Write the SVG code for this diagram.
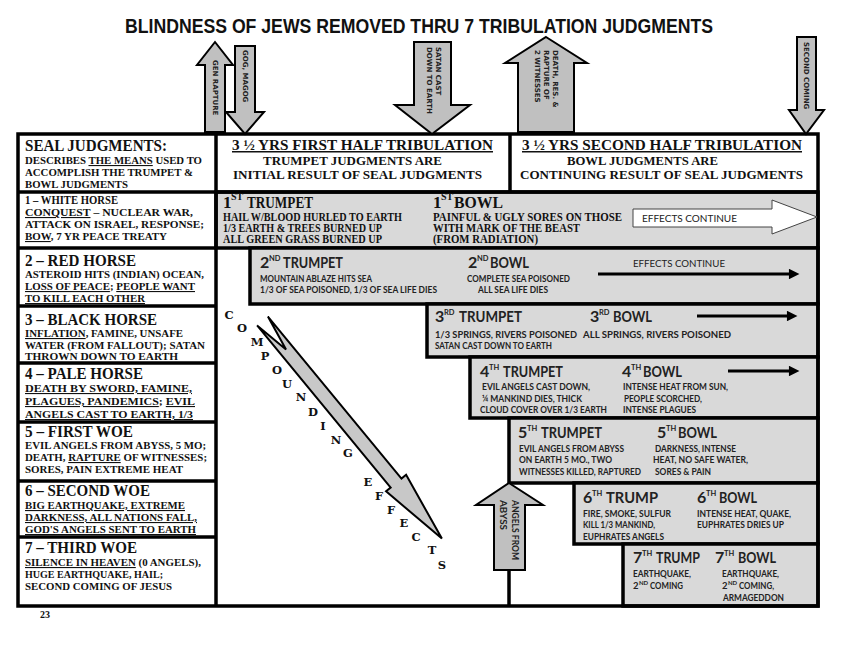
<svg xmlns="http://www.w3.org/2000/svg" width="851" height="655" viewBox="0 0 851 655">
<style>
.s{font-family:"Liberation Serif","Times New Roman",serif;font-weight:bold;fill:#111}
.c{font-family:Lato,"Liberation Sans",sans-serif;font-weight:bold;fill:#222}
.cr{font-family:Lato,"Liberation Sans",sans-serif;font-weight:normal;fill:#222}
.v{font-family:"DejaVu Sans",Verdana,sans-serif;font-weight:bold;font-size:7px;fill:#222}
.ttl{font-family:"Liberation Sans",Arial,sans-serif;font-weight:bold;font-size:21px;fill:#111}
.b{fill:#d9d9d9;stroke:#000;stroke-width:3.5}
.ln{stroke:#000;stroke-width:3.5;fill:none}
.ga{fill:#c0c0c0;stroke:#000;stroke-width:2;stroke-linejoin:miter}
.blk{stroke:#000;stroke-width:3;fill:none}
.ce{font-family:"DejaVu Serif",serif;font-weight:bold;font-size:11.5px;fill:#111;text-anchor:middle}
.u{text-decoration:underline}
.h{font-size:16px}
.sp{font-size:7.5px}
.t{font-size:9.5px}
.l{font-size:11px}
.r1{font-size:11.5px}
.lh{font-size:16px}
</style>
<defs>
<marker id="ah" viewBox="0 0 10 10" refX="1" refY="5" markerWidth="4.5" markerHeight="3.5" orient="auto">
<path d="M0,0 L10,5 L0,10 z" fill="#000"/>
</marker>
</defs>
<rect width="851" height="655" fill="#fff"/>

<g id="title">
<text class="ttl" x="125" y="33" textLength="588" lengthAdjust="spacingAndGlyphs">BLINDNESS OF JEWS REMOVED THRU 7 TRIBULATION JUDGMENTS</text>
</g>

<g id="trumpet-bowl-boxes">
<rect class="b" x="216" y="192" width="602" height="56"/>
<rect class="b" x="250" y="248" width="568" height="56"/>
<rect class="b" x="427" y="304" width="391" height="53"/>
<rect class="b" x="470" y="357" width="348" height="61"/>
<rect class="b" x="509" y="418" width="309" height="65"/>
<rect class="b" x="574" y="483" width="244" height="61"/>
<rect class="b" x="623" y="544" width="195" height="62"/>
</g>

<g id="frame">
<rect class="ln" x="18" y="134" width="800" height="472"/>
<line class="ln" x1="18" y1="192" x2="818" y2="192"/>
<line class="ln" x1="216" y1="134" x2="216" y2="606"/>
<line class="ln" x1="510" y1="134" x2="510" y2="192"/>
<line class="ln" x1="18" y1="248" x2="216" y2="248"/>
<line class="ln" x1="18" y1="306" x2="216" y2="306"/>
<line class="ln" x1="18" y1="363" x2="216" y2="363"/>
<line class="ln" x1="18" y1="422" x2="216" y2="422"/>
<line class="ln" x1="18" y1="481" x2="216" y2="481"/>
<line class="ln" x1="18" y1="537" x2="216" y2="537"/>
</g>

<g id="header">
<text class="s" x="25" y="151" font-size="17" textLength="142" lengthAdjust="spacingAndGlyphs">SEAL JUDGMENTS:</text>
<text class="s l" x="25" y="164" textLength="177" lengthAdjust="spacingAndGlyphs">DESCRIBES <tspan class="u">THE MEANS</tspan> USED TO</text>
<text class="s l" x="25" y="176" textLength="168" lengthAdjust="spacingAndGlyphs">ACCOMPLISH THE TRUMPET &amp;</text>
<text class="s l" x="25" y="188" textLength="103" lengthAdjust="spacingAndGlyphs">BOWL JUDGMENTS</text>
<text class="s u" x="232" y="150" font-size="15" textLength="261" lengthAdjust="spacingAndGlyphs">3 ½ YRS FIRST HALF TRIBULATION</text>
<text class="s" x="263" y="165" font-size="13.5" textLength="179" lengthAdjust="spacingAndGlyphs">TRUMPET JUDGMENTS ARE</text>
<text class="s" x="233" y="179" font-size="13.5" textLength="249" lengthAdjust="spacingAndGlyphs">INITIAL RESULT OF SEAL JUDGMENTS</text>
<text class="s u" x="522" y="150" font-size="15" textLength="280" lengthAdjust="spacingAndGlyphs">3 ½ YRS SECOND HALF TRIBULATION</text>
<text class="s" x="567" y="165" font-size="13.5" textLength="151" lengthAdjust="spacingAndGlyphs">BOWL JUDGMENTS ARE</text>
<text class="s" x="520" y="179" font-size="13.5" textLength="283" lengthAdjust="spacingAndGlyphs">CONTINUING RESULT OF SEAL JUDGMENTS</text>
</g>

<g id="seal-1">
<text class="s" x="25" y="204" font-size="12" textLength="93" lengthAdjust="spacingAndGlyphs">1 – WHITE HORSE</text>
<text class="s l" x="25" y="216" textLength="168" lengthAdjust="spacingAndGlyphs"><tspan class="u">CONQUEST</tspan> – NUCLEAR WAR,</text>
<text class="s l" x="25" y="228" textLength="179" lengthAdjust="spacingAndGlyphs">ATTACK ON ISRAEL, RESPONSE;</text>
<text class="s l" x="25" y="240" textLength="142" lengthAdjust="spacingAndGlyphs"><tspan class="u">BOW</tspan>, 7 YR PEACE TREATY</text>
</g>
<g id="seal-2">
<text class="s lh" x="25" y="266" textLength="111" lengthAdjust="spacingAndGlyphs">2 – RED HORSE</text>
<text class="s l" x="25" y="278" textLength="179" lengthAdjust="spacingAndGlyphs">ASTEROID HITS (INDIAN) OCEAN,</text>
<text class="s l" x="25" y="290" textLength="170" lengthAdjust="spacingAndGlyphs"><tspan class="u">LOSS OF PEACE</tspan>; <tspan class="u">PEOPLE WANT</tspan></text>
<text class="s l u" x="25" y="302" textLength="120" lengthAdjust="spacingAndGlyphs">TO KILL EACH OTHER</text>
</g>
<g id="seal-3">
<text class="s lh" x="25" y="325" textLength="132" lengthAdjust="spacingAndGlyphs">3 – BLACK HORSE</text>
<text class="s l" x="25" y="337" textLength="158" lengthAdjust="spacingAndGlyphs"><tspan class="u">INFLATION</tspan>, FAMINE, UNSAFE</text>
<text class="s l" x="25" y="349" textLength="180" lengthAdjust="spacingAndGlyphs">WATER (FROM FALLOUT); SATAN</text>
<text class="s l" x="25" y="360" textLength="153" lengthAdjust="spacingAndGlyphs">THROWN DOWN TO EARTH</text>
</g>
<g id="seal-4">
<text class="s lh" x="25" y="379" textLength="118" lengthAdjust="spacingAndGlyphs">4 – PALE HORSE</text>
<text class="s l u" x="25" y="392" textLength="167" lengthAdjust="spacingAndGlyphs">DEATH BY SWORD, FAMINE,</text>
<text class="s l" x="25" y="405" textLength="170" lengthAdjust="spacingAndGlyphs"><tspan class="u">PLAGUES, PANDEMICS</tspan>; <tspan class="u">EVIL</tspan></text>
<text class="s l u" x="25" y="418" textLength="168" lengthAdjust="spacingAndGlyphs">ANGELS CAST TO EARTH, 1/3</text>
</g>
<g id="seal-5">
<text class="s lh" x="25" y="437" textLength="108" lengthAdjust="spacingAndGlyphs">5 – FIRST WOE</text>
<text class="s l" x="25" y="449" textLength="181" lengthAdjust="spacingAndGlyphs">EVIL ANGELS FROM ABYSS, 5 MO;</text>
<text class="s l" x="25" y="461" textLength="182" lengthAdjust="spacingAndGlyphs">DEATH, <tspan class="u">RAPTURE</tspan> OF WITNESSES;</text>
<text class="s l" x="25" y="473" textLength="158" lengthAdjust="spacingAndGlyphs">SORES, PAIN EXTREME HEAT</text>
</g>
<g id="seal-6">
<text class="s lh" x="25" y="496" textLength="125" lengthAdjust="spacingAndGlyphs">6 – SECOND WOE</text>
<text class="s l u" x="25" y="509" textLength="160" lengthAdjust="spacingAndGlyphs">BIG EARTHQUAKE, EXTREME</text>
<text class="s l u" x="25" y="521" textLength="172" lengthAdjust="spacingAndGlyphs">DARKNESS, ALL NATIONS FALL,</text>
<text class="s l u" x="25" y="533" textLength="171" lengthAdjust="spacingAndGlyphs">GOD'S ANGELS SENT TO EARTH</text>
</g>
<g id="seal-7">
<text class="s lh" x="25" y="553" textLength="112" lengthAdjust="spacingAndGlyphs">7 – THIRD WOE</text>
<text class="s l" x="25" y="566" textLength="176" lengthAdjust="spacingAndGlyphs"><tspan class="u">SILENCE IN HEAVEN</tspan> (0 ANGELS),</text>
<text class="s l" x="25" y="578" textLength="138" lengthAdjust="spacingAndGlyphs">HUGE EARTHQUAKE, HAIL;</text>
<text class="s l" x="25" y="590" textLength="147" lengthAdjust="spacingAndGlyphs">SECOND COMING OF JESUS</text>
</g>
<text class="s" x="40" y="618" font-size="10">23</text>

<g id="row-1">
<text class="s" x="223" y="208" font-size="17">1</text>
<text class="s" x="231" y="200" font-size="10">ST</text>
<text class="s" x="247" y="208" font-size="17" textLength="66" lengthAdjust="spacingAndGlyphs">TRUMPET</text>
<text class="s r1" x="223" y="221" textLength="179" lengthAdjust="spacingAndGlyphs">HAIL W/BLOOD HURLED TO EARTH</text>
<text class="s r1" x="223" y="232" textLength="159" lengthAdjust="spacingAndGlyphs">1/3 EARTH &amp; TREES BURNED UP</text>
<text class="s r1" x="223" y="243" textLength="159" lengthAdjust="spacingAndGlyphs">ALL GREEN GRASS BURNED UP</text>
<text class="s" x="433" y="208" font-size="17">1</text>
<text class="s" x="441" y="200" font-size="10">ST</text>
<text class="s" x="454" y="208" font-size="17" textLength="49" lengthAdjust="spacingAndGlyphs">BOWL</text>
<text class="s r1" x="433" y="221" textLength="189" lengthAdjust="spacingAndGlyphs">PAINFUL &amp; UGLY SORES ON THOSE</text>
<text class="s r1" x="433" y="232" textLength="147" lengthAdjust="spacingAndGlyphs">WITH MARK OF THE BEAST</text>
<text class="s r1" x="433" y="243" textLength="105" lengthAdjust="spacingAndGlyphs">(FROM RADIATION)</text>
</g>

<g id="row-2">
<text class="c h" x="260" y="268">2</text>
<text class="c sp" x="269" y="261">ND</text>
<text class="c h" x="283" y="268" textLength="60" lengthAdjust="spacingAndGlyphs">TRUMPET</text>
<text class="c t" x="260" y="282" textLength="112" lengthAdjust="spacingAndGlyphs">MOUNTAIN ABLAZE HITS SEA</text>
<text class="c t" x="260" y="293" textLength="177" lengthAdjust="spacingAndGlyphs">1/3 OF SEA POISONED, 1/3 OF SEA LIFE DIES</text>
<text class="c h" x="468" y="268">2</text>
<text class="c sp" x="477" y="261">ND</text>
<text class="c h" x="490" y="268" textLength="39" lengthAdjust="spacingAndGlyphs">BOWL</text>
<text class="c t" x="467" y="282" textLength="103" lengthAdjust="spacingAndGlyphs">COMPLETE SEA POISONED</text>
<text class="c t" x="478" y="293" textLength="70" lengthAdjust="spacingAndGlyphs">ALL SEA LIFE DIES</text>
<text class="cr" x="633" y="267" font-size="10" textLength="92" lengthAdjust="spacingAndGlyphs">EFFECTS CONTINUE</text>
</g>

<g id="row-3">
<text class="c h" x="435" y="322">3</text>
<text class="c sp" x="444" y="315">RD</text>
<text class="c h" x="459" y="322" textLength="63" lengthAdjust="spacingAndGlyphs">TRUMPET</text>
<text class="c t" x="435" y="338" textLength="142" lengthAdjust="spacingAndGlyphs">1/3 SPRINGS, RIVERS POISONED</text>
<text class="c t" x="435" y="349" textLength="117" lengthAdjust="spacingAndGlyphs">SATAN CAST DOWN TO EARTH</text>
<text class="c h" x="590" y="322">3</text>
<text class="c sp" x="599" y="315">RD</text>
<text class="c h" x="613" y="322" textLength="39" lengthAdjust="spacingAndGlyphs">BOWL</text>
<text class="c t" x="583" y="338" textLength="148" lengthAdjust="spacingAndGlyphs">ALL SPRINGS, RIVERS POISONED</text>
</g>

<g id="row-4">
<text class="c h" x="480" y="377">4</text>
<text class="c sp" x="489" y="370">TH</text>
<text class="c h" x="503" y="377" textLength="60" lengthAdjust="spacingAndGlyphs">TRUMPET</text>
<text class="c t" x="482" y="390" textLength="108" lengthAdjust="spacingAndGlyphs">EVIL ANGELS  CAST DOWN,</text>
<text class="c t" x="482" y="402" textLength="100" lengthAdjust="spacingAndGlyphs">¼ MANKIND DIES, THICK</text>
<text class="c t" x="480" y="413" textLength="127" lengthAdjust="spacingAndGlyphs">CLOUD COVER OVER 1/3 EARTH</text>
<text class="c h" x="622" y="377">4</text>
<text class="c sp" x="631" y="370">TH</text>
<text class="c h" x="643" y="377" textLength="39" lengthAdjust="spacingAndGlyphs">BOWL</text>
<text class="c t" x="623" y="390" textLength="105" lengthAdjust="spacingAndGlyphs">INTENSE HEAT FROM SUN,</text>
<text class="c t" x="624" y="402" textLength="78" lengthAdjust="spacingAndGlyphs">PEOPLE SCORCHED,</text>
<text class="c t" x="623" y="413" textLength="73" lengthAdjust="spacingAndGlyphs">INTENSE PLAGUES</text>
</g>

<g id="row-5">
<text class="c h" x="518" y="438">5</text>
<text class="c sp" x="527" y="431">TH</text>
<text class="c h" x="541" y="438" textLength="61" lengthAdjust="spacingAndGlyphs">TRUMPET</text>
<text class="c t" x="519" y="452" textLength="105" lengthAdjust="spacingAndGlyphs">EVIL ANGELS FROM ABYSS</text>
<text class="c t" x="519" y="463" textLength="93" lengthAdjust="spacingAndGlyphs">ON EARTH 5 MO., TWO</text>
<text class="c t" x="519" y="475" textLength="122" lengthAdjust="spacingAndGlyphs">WITNESSES KILLED, RAPTURED</text>
<text class="c h" x="657" y="438">5</text>
<text class="c sp" x="666" y="431">TH</text>
<text class="c h" x="678" y="438" textLength="39" lengthAdjust="spacingAndGlyphs">BOWL</text>
<text class="c t" x="655" y="452" textLength="81" lengthAdjust="spacingAndGlyphs">DARKNESS, INTENSE</text>
<text class="c t" x="653" y="463" textLength="95" lengthAdjust="spacingAndGlyphs">HEAT, NO SAFE WATER,</text>
<text class="c t" x="655" y="475" textLength="56" lengthAdjust="spacingAndGlyphs">SORES &amp; PAIN</text>
</g>

<g id="row-6">
<text class="c h" x="583" y="503">6</text>
<text class="c sp" x="592" y="496">TH</text>
<text class="c h" x="606" y="503" textLength="52" lengthAdjust="spacingAndGlyphs">TRUMP</text>
<text class="c t" x="583" y="517" textLength="88" lengthAdjust="spacingAndGlyphs">FIRE, SMOKE, SULFUR</text>
<text class="c t" x="583" y="528" textLength="72" lengthAdjust="spacingAndGlyphs">KILL 1/3 MANKIND,</text>
<text class="c t" x="583" y="540" textLength="81" lengthAdjust="spacingAndGlyphs">EUPHRATES ANGELS</text>
<text class="c h" x="697" y="503">6</text>
<text class="c sp" x="706" y="496">TH</text>
<text class="c h" x="719" y="503" textLength="38" lengthAdjust="spacingAndGlyphs">BOWL</text>
<text class="c t" x="697" y="517" textLength="94" lengthAdjust="spacingAndGlyphs">INTENSE HEAT, QUAKE,</text>
<text class="c t" x="697" y="528" textLength="87" lengthAdjust="spacingAndGlyphs">EUPHRATES DRIES UP</text>
</g>

<g id="row-7">
<text class="c h" x="633" y="563">7</text>
<text class="c sp" x="642" y="556">TH</text>
<text class="c h" x="656" y="563" textLength="44" lengthAdjust="spacingAndGlyphs">TRUMP</text>
<text class="c t" x="633" y="577" textLength="58" lengthAdjust="spacingAndGlyphs">EARTHQUAKE,</text>
<text class="c t" x="633" y="589">2</text>
<text class="c" x="639" y="585" font-size="6">ND</text>
<text class="c t" x="650" y="589" textLength="33" lengthAdjust="spacingAndGlyphs">COMING</text>
<text class="c h" x="715" y="563">7</text>
<text class="c sp" x="724" y="556">TH</text>
<text class="c h" x="738" y="563" textLength="38" lengthAdjust="spacingAndGlyphs">BOWL</text>
<text class="c t" x="722" y="577" textLength="57" lengthAdjust="spacingAndGlyphs">EARTHQUAKE,</text>
<text class="c t" x="722" y="589">2</text>
<text class="c" x="728" y="585" font-size="6">ND</text>
<text class="c t" x="739" y="589" textLength="35" lengthAdjust="spacingAndGlyphs">COMING,</text>
<text class="c t" x="723" y="601" textLength="61" lengthAdjust="spacingAndGlyphs">ARMAGEDDON</text>
</g>

<g id="connectors">
<polygon points="633,209 772,209 772,200 817,217 772,234 772,227 633,227" fill="#fff" stroke="#444" stroke-width="1"/>
<text class="cr" x="642" y="222" font-size="10" textLength="95" lengthAdjust="spacingAndGlyphs">EFFECTS CONTINUE</text>
<line class="blk" x1="598" y1="274" x2="790" y2="274" marker-end="url(#ah)"/>
<line class="blk" x1="697" y1="316" x2="788" y2="316" marker-end="url(#ah)"/>
<line class="blk" x1="728" y1="371" x2="790" y2="371" marker-end="url(#ah)"/>
</g>

<g id="arrow-gen-rapture">
<polygon class="ga" points="215,42 233,65 225,65 225,132 205,132 205,65 197,65"/>
<text class="v" transform="translate(215,60) rotate(90)" dy="0.35em">GEN RAPTURE</text>
</g>
<g id="arrow-gog-magog">
<polygon class="ga" points="235,46 255,46 255,112 264,112 245,134 226,112 235,112"/>
<text class="v" transform="translate(245,50) rotate(90)" dy="0.35em">GOG, MAGOG</text>
</g>
<g id="arrow-satan">
<polygon class="ga" points="414,42 451,42 451,105 470,105 432,134 395,105 414,105"/>
<text class="v" transform="translate(438,47) rotate(90)" dy="0.35em">SATAN CAST</text>
<text class="v" transform="translate(429,47) rotate(90)" dy="0.35em">DOWN TO EARTH</text>
</g>
<g id="arrow-death">
<polygon class="ga" points="546,37 587,63 574,63 574,132 518,132 518,63 505,63"/>
<text class="v" transform="translate(555,50) rotate(90)" dy="0.35em">DEATH, RES. &amp;</text>
<text class="v" transform="translate(546,50) rotate(90)" dy="0.35em">RAPTURE OF</text>
<text class="v" transform="translate(537,50) rotate(90)" dy="0.35em">2 WITNESSES</text>
</g>
<g id="arrow-second-coming">
<polygon class="ga" points="797,37 816,37 816,110 824,110 806,134 789,110 797,110"/>
<text class="v" transform="translate(806,42) rotate(90)" dy="0.35em">SECOND COMING</text>
</g>

<g id="arrow-angels-abyss">
<line class="ln" x1="509" y1="568" x2="509" y2="606" stroke-width="3"/>
<polygon class="ga" points="509,483 543,505 525,505 525,570 494,570 494,505 476,505"/>
<text class="c" font-size="9" transform="translate(515,500) rotate(90)" dy="0.35em" textLength="60" lengthAdjust="spacingAndGlyphs">ANGELS FROM</text>
<text class="c" font-size="9" transform="translate(503,500) rotate(90)" dy="0.35em" textLength="30" lengthAdjust="spacingAndGlyphs">ABYSS</text>
</g>

<g id="compounding-effects">
<polygon transform="translate(262.5,321) rotate(50.5)" points="0,-7 210,-7 210,-13 282,0 210,13 210,7 0,7 37,0" fill="#c8c8c8" stroke="#000" stroke-width="2" stroke-linejoin="miter"/>
<text class="ce" x="229" y="319">C</text>
<text class="ce" x="242" y="332">O</text>
<text class="ce" x="257" y="346">M</text>
<text class="ce" x="265" y="360">P</text>
<text class="ce" x="277" y="374">O</text>
<text class="ce" x="287" y="388">U</text>
<text class="ce" x="301" y="401">N</text>
<text class="ce" x="313" y="416">D</text>
<text class="ce" x="323" y="430">I</text>
<text class="ce" x="336" y="444">N</text>
<text class="ce" x="348" y="457">G</text>
<text class="ce" x="368" y="486">E</text>
<text class="ce" x="379" y="500">F</text>
<text class="ce" x="391" y="514">F</text>
<text class="ce" x="404" y="527">E</text>
<text class="ce" x="416" y="541">C</text>
<text class="ce" x="432" y="554">T</text>
<text class="ce" x="442" y="569">S</text>
</g>
</svg>
